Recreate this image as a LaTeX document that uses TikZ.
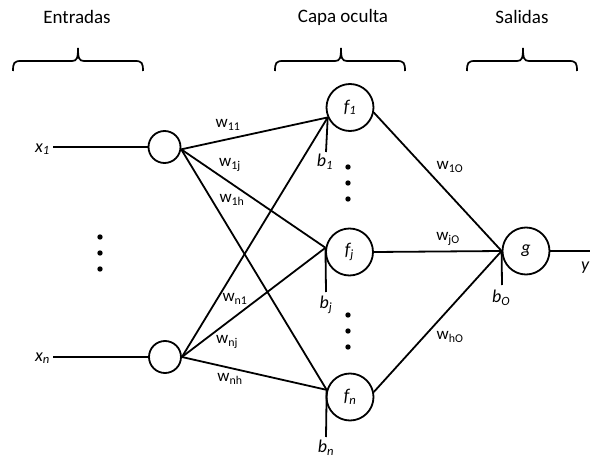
\documentclass[tikz,border=0pt]{standalone}
\usepackage{fontspec}
\setmainfont{Carlito}
% curly brace over a layer: left end, tip, right end
\newcommand\layerbrace[3]{%
  \draw[bracestyle] (#1,71) .. controls (#1,63) and (#1+1,61) .. (#1+8,61)
    -- (#2-6,61) .. controls (#2-1,61) and (#2,58) .. (#2,48)
    .. controls (#2,58) and (#2+1,61) .. (#2+6,61)
    -- (#3-8,61) .. controls (#3-1,61) and (#3,63) .. (#3,71);}
\begin{document}
\begin{tikzpicture}[x=1pt,y=-1pt,
  neuron/.style={circle,draw,line width=1.8pt,minimum size=47pt,inner sep=0pt,
    font=\fontsize{18}{20}\selectfont\itshape},
  innode/.style={circle,draw,line width=1.8pt,minimum size=32pt,inner sep=0pt},
  link/.style={line width=1.8pt},
  bracestyle/.style={line width=1.7pt},
  header/.style={font=\fontsize{19}{22}\selectfont,inner sep=0pt},
  wlabel/.style={font=\fontsize{17}{20}\selectfont,inner sep=0pt},
  mlabel/.style={font=\fontsize{18}{20}\selectfont\itshape,inner sep=0pt},
  dot/.style={fill=black}
]
\useasboundingbox (0,0) rectangle (590,460);

% layer headings and braces
\node[header] (hin) at (77,17) {Entradas};
\node[header] (hhid) at (343,17) {Capa oculta};
\node[header] (hout) at (522,17) {Salidas};
\layerbrace{13}{78}{143}
\layerbrace{275}{341}{405}
\layerbrace{467}{523}{577}

% input layer
\node[innode] (in1) at (164.5,147) {};
\node[innode] (inn) at (165,357) {};
\node[mlabel,anchor=east] (x1) at (50,149) {x\textsubscript{1}};
\node[mlabel,anchor=east] (xn) at (50,358) {x\textsubscript{n}};
\coordinate (x1s) at (53,147);
\coordinate (xns) at (53,357);
\draw[link] (x1s) -- (in1);
\draw[link] (xns) -- (inn);
\foreach \yy in {237,253,269} \fill[dot] (100,\yy) circle (2.7pt);

% hidden layer
\node[neuron] (f1) at (350,107.5) {f\textsubscript{1}};
\node[neuron] (fj) at (349.5,252) {f\textsubscript{j}};
\node[neuron] (fn) at (350,397) {f\textsubscript{n}};
\foreach \yy in {167,183,199,315,331,347} \fill[dot] (348,\yy) circle (2.7pt);

% output neuron
\node[neuron] (g) at (526,251) {g};

% input -> hidden connections
\draw[link] (in1.352) -- (f1.204);
\draw[link] (in1.352) -- (fj.170);
\draw[link] (in1.352) -- (fn.163);
\draw[link] (inn.east) -- (f1.204);
\draw[link] (inn.east) -- (fj.170);
\draw[link] (inn.east) -- (fn.163);

% hidden -> output connections
\draw[link] (f1.-12) -- (g.west);
\draw[link] (fj.east) -- (g.west);
\draw[link] (fn.12) -- (g.west);

% output line
\coordinate (yend) at (590,251);
\draw[link] (g.east) -- (yend);
\node[mlabel,anchor=west] (ylab) at (581,268) {y};

% bias inputs
\node[mlabel] (b1) at (325,162) {b\textsubscript{1}};
\node[mlabel] (bj) at (326,305) {b\textsubscript{j}};
\node[mlabel] (bn) at (326,448) {b\textsubscript{n}};
\node[mlabel] (bo) at (501,298) {b\textsubscript{O}};
\coordinate (b1t) at (326,152);
\coordinate (bjt) at (326,292);
\coordinate (bnt) at (326,437);
\coordinate (bot) at (502,285);
\draw[link] (f1.204) -- (b1t);
\draw[link] (fj.170) -- (bjt);
\draw[link] (fn.163) -- (bnt);
\draw[link] (g.west) -- (bot);

% weight labels
\node[wlabel] (w11) at (228,125) {w\textsubscript{11}};
\node[wlabel] (w1j) at (230,165) {w\textsubscript{1j}};
\node[wlabel] (w1h) at (232,200) {w\textsubscript{1h}};
\node[wlabel] (wn1) at (235,299) {w\textsubscript{n1}};
\node[wlabel] (wnj) at (227,342) {w\textsubscript{nj}};
\node[wlabel] (wnh) at (230,379) {w\textsubscript{nh}};
\node[wlabel] (w1o) at (450,167) {w\textsubscript{1O}};
\node[wlabel] (wjo) at (448,239) {w\textsubscript{jO}};
\node[wlabel] (who) at (450,337) {w\textsubscript{hO}};
\end{tikzpicture}
\end{document}
